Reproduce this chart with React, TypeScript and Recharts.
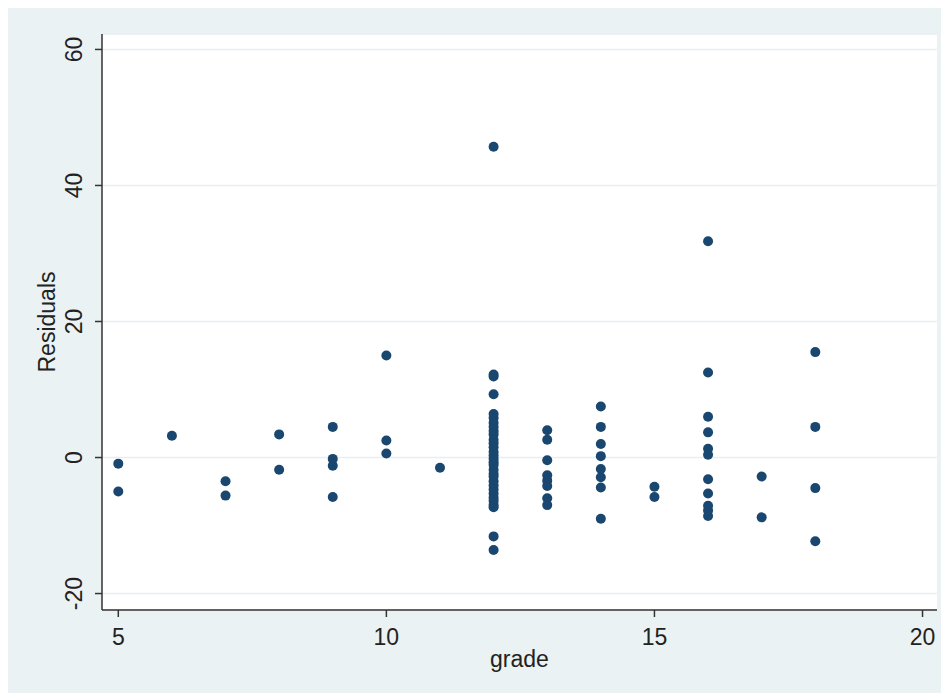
import React from 'react';
import { ScatterChart, Scatter, XAxis, YAxis, CartesianGrid, Label } from 'recharts';

// residuals, grouped by grade
const grade5 = [-0.9, -5.0];
const grade6 = [3.2];
const grade7 = [-3.5, -5.6];
const grade8 = [3.4, -1.8];
const grade9 = [4.5, -0.2, -1.2, -5.8];
const grade10 = [15.0, 2.5, 0.6];
const grade11 = [-1.5];
const grade12 = [
  45.7, 12.2, 11.9, 9.3, 6.4, 5.8, 5.1, 4.5, 3.9, 3.4, 2.6, 2.1, 1.5, 0.8, 0.3, -0.2,
  -0.7, -1.1, -1.8, -2.4, -2.8, -3.5, -4.1, -4.7, -5.3, -5.9, -6.4, -7.0, -7.3, -11.6, -13.6,
];
const grade13 = [4.0, 2.6, -0.4, -2.6, -3.4, -4.2, -6.0, -7.0];
const grade14 = [7.5, 4.5, 2.0, 0.2, -1.7, -2.9, -4.4, -9.0];
const grade15 = [-4.3, -5.8];
const grade16 = [31.8, 12.5, 6.0, 3.7, 1.3, 0.4, -3.2, -5.3, -7.1, -7.8, -8.6];
const grade17 = [-2.8, -8.8];
const grade18 = [15.5, 4.5, -4.5, -12.3];

const groups: [number, number[]][] = [
  [5, grade5], [6, grade6], [7, grade7], [8, grade8], [9, grade9], [10, grade10],
  [11, grade11], [12, grade12], [13, grade13], [14, grade14], [15, grade15],
  [16, grade16], [17, grade17], [18, grade18],
];

const xTicks = [5, 10, 15, 20];
const yTicks = [-20, 0, 20, 40, 60];

const points = groups.flatMap(([g, vals]) => vals.map((r) => ({ grade: g, resid: r })));

const FONT = '"Liberation Sans", Arial, sans-serif';
const AXIS = '#333333';

const XTick = (props: any) => (
  <text x={props.x} y={props.y + 27.5} textAnchor="middle" fontFamily={FONT} fontSize={23} fill="#222">
    {props.payload.value}
  </text>
);

const YTick = (props: any) => {
  const x = props.x - 13;
  return (
    <text x={x} y={props.y} transform={`rotate(-90, ${x}, ${props.y})`} textAnchor="middle"
      fontFamily={FONT} fontSize={23} fill="#222">
      {props.payload.value}
    </text>
  );
};

const Dot = (props: any) => <circle cx={props.cx} cy={props.cy} r={5} fill="#1a476f" />;

export default function App() {
  return (
    <div style={{ width: 941, height: 685, background: '#eaf2f3' }}>
      <ScatterChart width={941} height={685} margin={{ top: 26, right: 12, bottom: 0, left: 0 }}>
        <CartesianGrid vertical={false} fill="#ffffff" fillOpacity={1} stroke="#e6eef1" strokeWidth={1.5} />
        <XAxis
          type="number"
          dataKey="grade"
          domain={[4.696, 20.27]}
          ticks={xTicks}
          allowDataOverflow
          height={83}
          tickSize={7}
          tickMargin={0}
          tick={XTick}
          axisLine={{ stroke: AXIS, strokeWidth: 1.5 }}
          tickLine={{ stroke: AXIS, strokeWidth: 1.5 }}
        >
          <Label
            content={({ viewBox }: any) => (
              <text x={viewBox.x + viewBox.width / 2} y={viewBox.y + 57} textAnchor="middle"
                fontFamily={FONT} fontSize={23} fill="#222">grade</text>
            )}
          />
        </XAxis>
        <YAxis
          type="number"
          dataKey="resid"
          domain={[-22.42, 62.27]}
          ticks={yTicks}
          allowDataOverflow
          width={94}
          tickSize={7}
          tickMargin={0}
          tick={YTick}
          axisLine={{ stroke: AXIS, strokeWidth: 1.5 }}
          tickLine={{ stroke: AXIS, strokeWidth: 1.5 }}
        >
          <Label
            content={({ viewBox }: any) => {
              const cy = viewBox.y + viewBox.height / 2;
              return (
                <text x={47} y={cy} transform={`rotate(-90, 47, ${cy})`} textAnchor="middle"
                  fontFamily={FONT} fontSize={23} fill="#222">Residuals</text>
              );
            }}
          />
        </YAxis>
        <Scatter data={points} shape={Dot} isAnimationActive={false} />
      </ScatterChart>
    </div>
  );
}
